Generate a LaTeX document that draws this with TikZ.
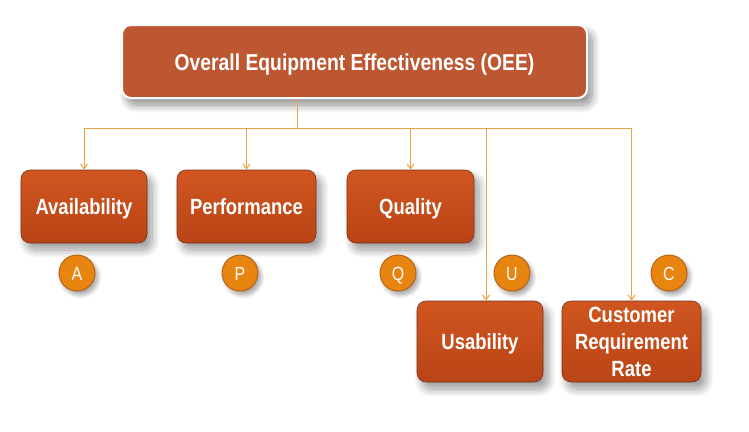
\documentclass[tikz,border=0pt]{standalone}
\usepackage{fontspec}
\setsansfont[FakeStretch=0.84]{Liberation Sans}
\usetikzlibrary{arrows.meta, shadows.blur}
\definecolor{oeebrown}{RGB}{189,87,49}
\definecolor{boxtop}{RGB}{208,86,32}
\definecolor{boxbot}{RGB}{186,68,22}
\definecolor{boxedge}{RGB}{120,50,25}
\definecolor{coin}{RGB}{232,132,16}
\definecolor{coinedge}{RGB}{180,100,20}
\definecolor{wire}{RGB}{242,160,70}

\begin{document}
\begin{tikzpicture}[x=1pt, y=-1pt, font=\sffamily,
  mainbox/.style={draw=white, line width=2pt, fill=oeebrown, rounded corners=9pt,
    minimum width=465pt, minimum height=73pt, inner sep=0pt, text=white,
    text height=22pt, text depth=4pt,
    font=\sffamily\bfseries\fontsize{23}{28}\selectfont,
    blur shadow={shadow xshift=5pt, shadow yshift=-7pt, shadow blur steps=12, shadow blur radius=8pt, shadow opacity=45}},
  part/.style={draw=boxedge, line width=0.6pt, top color=boxtop, bottom color=boxbot,
    rounded corners=9pt, minimum height=73pt, inner sep=0pt, text=white, align=center,
    font=\sffamily\bfseries\fontsize{22}{27}\selectfont,
    blur shadow={shadow xshift=5pt, shadow yshift=-7pt, shadow blur steps=12, shadow blur radius=8pt, shadow opacity=40}},
  oneline/.style={text height=21pt, text depth=5pt},
  letter/.style={circle, draw=coinedge, line width=1pt, fill=coin, minimum size=36pt,
    inner sep=0pt, text=white, text height=14pt, text depth=0pt,
    font=\sffamily\fontsize{19}{20}\selectfont,
    blur shadow={shadow xshift=3pt, shadow yshift=-4pt, shadow blur steps=8, shadow blur radius=4pt, shadow opacity=35}},
  link/.style={draw=wire, line width=1pt},
  tip/.style={link, -{Straight Barb[length=5pt, width=7pt]}}]

\useasboundingbox (0,0) rectangle (749,431);

\node[mainbox] (oee) at (354.5,61.5) {Overall Equipment Effectiveness (OEE)};

\node[part, oneline, minimum width=126pt] (avail) at (84,206.5) {Availability};
\node[part, oneline, minimum width=139pt] (perf) at (246.5,206.5) {Performance};
\node[part, oneline, minimum width=127pt] (qual) at (410.5,206.5) {Quality};
\node[part, oneline, minimum width=126pt, minimum height=81pt] (usab) at (480,341.5) {Usability};
\node[part, minimum width=139pt, minimum height=81pt] (cust) at (631.5,341.5) {Customer\\Requirement\\Rate};

\node[letter] (a) at (77,273) {A};
\node[letter] (p) at (240,273) {P};
\node[letter] (q) at (398,273) {Q};
\node[letter] (u) at (512,273) {U};
\node[letter] (c) at (669,273) {C};

\coordinate (bus) at (297,128);
\coordinate (usabin) at ([xshift=6pt]usab.north);

\draw[link] ([xshift=-57.5pt]oee.south) -- (bus);
\draw[link] (avail.north |- bus) -- (cust.north |- bus);
\draw[tip] (avail.north |- bus) -- (avail.north);
\draw[tip] (perf.north |- bus) -- (perf.north);
\draw[tip] (qual.north |- bus) -- (qual.north);
\draw[tip] (usabin |- bus) -- (usabin);
\draw[tip] (cust.north |- bus) -- (cust.north);

\end{tikzpicture}
\end{document}
